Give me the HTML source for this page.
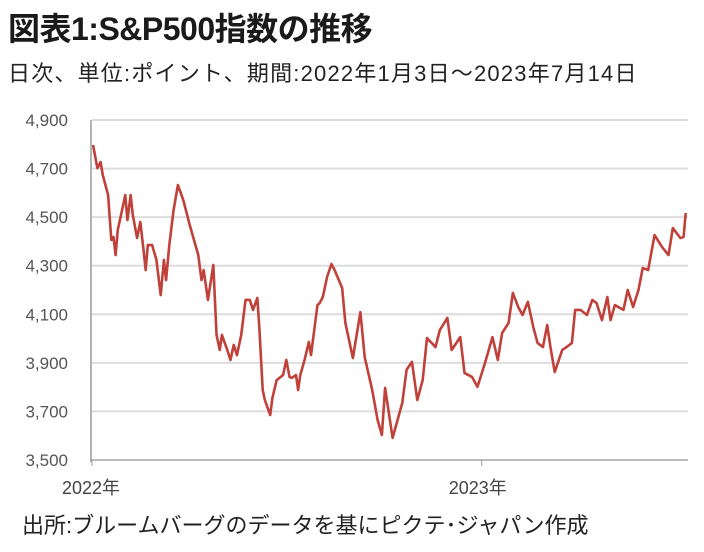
<!DOCTYPE html>
<html><head><meta charset="utf-8">
<style>
body{margin:0;width:704px;height:552px;background:#fff;overflow:hidden;font-family:"Liberation Sans","Noto Sans CJK JP",sans-serif;}
.t{position:absolute;white-space:nowrap;color:#222;}
</style></head><body>
<div class="t" style="left:8px;top:4px;font-size:32px;font-weight:bold;color:#1a1a1a;letter-spacing:-0.5px;">図表1:S&amp;P500指数の推移</div>
<div class="t" style="left:8px;top:56px;font-size:22px;letter-spacing:1.2px;">日次、単位:ポイント、期間:2022年1月3日～2023年7月14日</div>
<div class="t" style="left:22px;top:508px;font-size:22px;">出所:ブルームバーグのデータを基にピクテ･ジャパン作成</div>
<svg id="c" width="704" height="552" style="position:absolute;left:0;top:0"></svg>
<script>
const days=[1,5,8,10,15,18,20,22,24,31,33,36,38,42,45,48,50,52,56,60,64,67,69,72,76,80,85,91,95,99,102,104,108,113,116,119,121,126,129,132,135,139,143,147,150,154,156,159,161,166,168,172,178,181,184,186,190,192,194,198,202,204,207,210,212,215,219,223,226,233,236,243,250,254,261,266,270,273,280,289,293,298,303,308,312,320,324,331,335,343,347,354,359,366,373,378,382,388,392,397,401,406,411,415,420,424,427,431,438,442,447,450,455,461,466,470,475,480,483,487,495,499,504,509,513,518,524,531,537,541,548,551,553];
const values=[4797,4702,4727,4674,4591,4406,4418,4344,4447,4591,4488,4591,4509,4414,4480,4365,4282,4385,4385,4324,4179,4324,4241,4385,4529,4632,4571,4468,4406,4344,4241,4282,4159,4303,4015,3953,4015,3953,3912,3974,3932,4015,4159,4159,4118,4167,4035,3788,3747,3685,3755,3829,3850,3912,3842,3838,3850,3788,3850,3912,3986,3932,4035,4138,4146,4171,4254,4307,4282,4208,4064,3920,4109,3924,3788,3665,3603,3797,3591,3735,3871,3904,3747,3829,4002,3965,4035,4085,3953,4006,3858,3842,3801,3899,4006,3912,4023,4064,4188,4130,4097,4151,4048,3982,3965,4056,3965,3862,3953,3965,3982,4118,4118,4097,4159,4146,4076,4171,4076,4138,4118,4200,4130,4200,4291,4282,4426,4377,4344,4455,4414,4418,4517];
const yTicks=[3500,3700,3900,4100,4300,4500,4700,4900];
const xTickDays=[0,363];
const xTickLabels=["2022年","2023年"];
const svg=document.getElementById('c');const NS='http://www.w3.org/2000/svg';
const X0=92,X1=690,Y0=460,Y1=120,DMAX=557;
const xs=d=>X0+(d/DMAX)*(X1-X0);
const ys=v=>Y0-(v-3500)/(4900-3500)*(Y0-Y1);
function mk(t,a){const e=document.createElementNS(NS,t);for(const k in a)e.setAttribute(k,a[k]);svg.appendChild(e);return e;}
yTicks.forEach(v=>{
  const l=mk('line',{x1:X0,x2:688,y1:ys(v),y2:ys(v),stroke:v===3500?'#bbb':'#ddd','stroke-width':2});
  
  
  const t=mk('text',{x:68,y:ys(v)+6,'text-anchor':'end','font-size':17,fill:'#555','font-family':'Liberation Sans, sans-serif'});
  t.textContent=v.toLocaleString('en-US');
  
  
});
const ax=mk('line',{x1:91,x2:91,y1:Y1,y2:Y0+2,stroke:'#999','stroke-width':1.5});


xTickDays.forEach((d,i)=>{
  const t=mk('text',{x:xs(d)-(i===0?30:33),y:494,'font-size':18,fill:'#444','font-family':'Liberation Sans, Noto Sans CJK JP, sans-serif'});
  t.textContent=xTickLabels[i];
  
  
  const tk=mk('line',{x1:xs(d),x2:xs(d),y1:Y0,y2:Y0+6,stroke:'#999','stroke-width':1});
  
  
});
const p=mk('polyline',{points:days.map((d,i)=>xs(d)+','+ys(values[i])).join(' '),fill:'none',stroke:'#c0403a','stroke-width':2.6,'stroke-linejoin':'round'});


</script>
</body></html>
